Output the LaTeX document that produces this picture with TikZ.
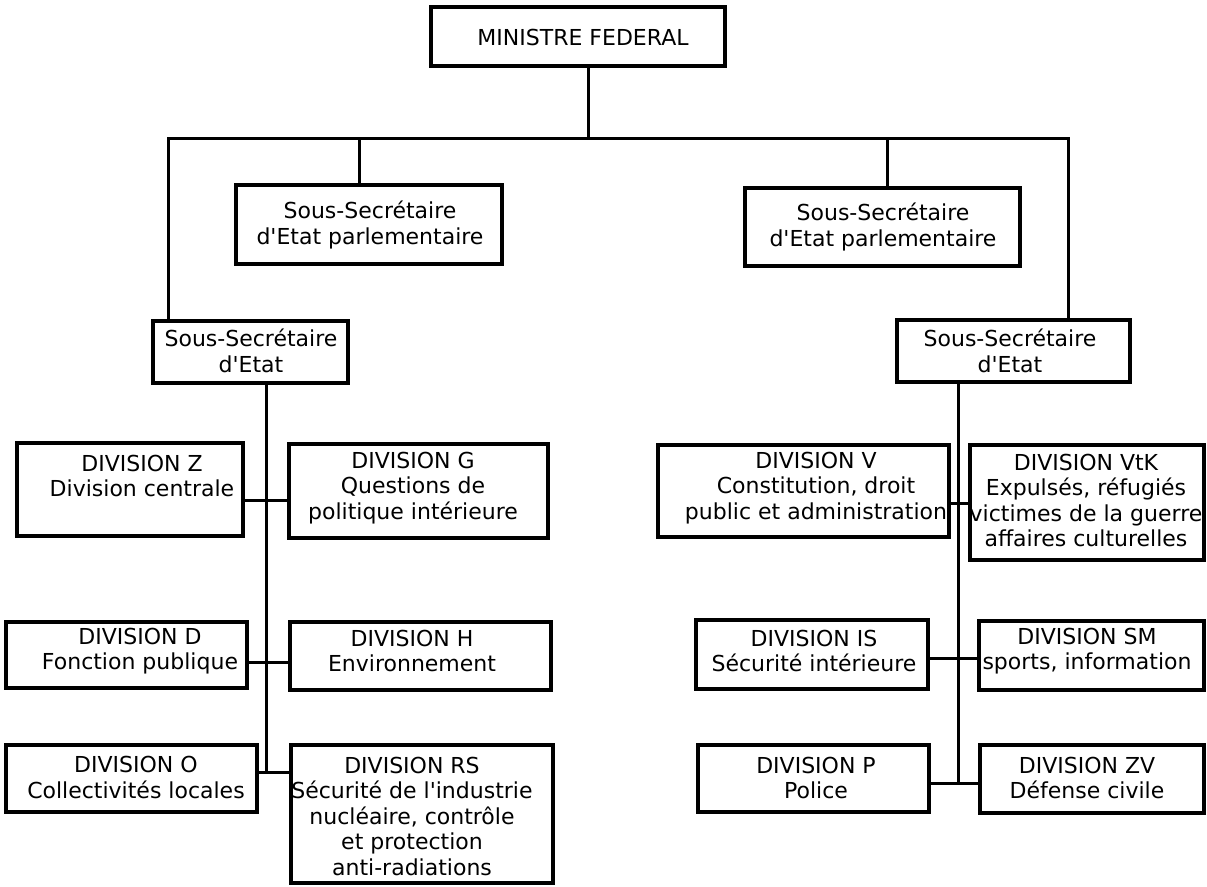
\documentclass[tikz,border=0pt]{standalone}
\usepackage{fontspec}
\setmainfont{DejaVu Sans}[Ligatures=TeXOff]
\begin{document}
\begin{tikzpicture}[x=1pt,y=-1pt,
  box/.style={draw, line width=3.4pt, inner sep=0pt, outer sep=0pt},
  txt/.style={align=center, inner sep=0pt, font=\fontsize{22}{25.5}\selectfont},
  link/.style={line width=3pt, line join=miter}]
\useasboundingbox (0,0) rectangle (1207,886);
% boxes
\node[box, minimum width=294pt, minimum height=59pt] (mf) at (578,36.5) {};
\node[txt] (mft) at (583,37) {MINISTRE FEDERAL};
\node[box, minimum width=266pt, minimum height=79pt] (ssepl) at (369,224.5) {};
\node[txt] (sseplt) at (370,225) {Sous-Secrétaire\\d'Etat parlementaire};
\node[box, minimum width=275pt, minimum height=78pt] (ssepr) at (882.5,227) {};
\node[txt] (sseprt) at (883,227) {Sous-Secrétaire\\d'Etat parlementaire};
\node[box, minimum width=195pt, minimum height=62pt] (ssel) at (250.5,352) {};
\node[txt] (sselt) at (251,351) {Sous-Secrétaire\\d'Etat};
\node[box, minimum width=233pt, minimum height=62pt] (sser) at (1013.5,351) {};
\node[txt] (ssert) at (1010,351) {Sous-Secrétaire\\d'Etat};
% left divisions
\node[box, minimum width=226pt, minimum height=93pt] (z) at (130,489.5) {};
\node[txt] (zt) at (142,476) {DIVISION Z\\Division centrale};
\node[box, minimum width=259pt, minimum height=94pt] (g) at (418.5,491) {};
\node[txt] (gt) at (413,488) {DIVISION G\\Questions de\\politique intérieure};
\node[box, minimum width=241pt, minimum height=66pt] (d) at (126.5,655) {};
\node[txt] (dt) at (140,651) {DIVISION D\\Fonction publique};
\node[box, minimum width=261pt, minimum height=68pt] (h) at (420.5,656) {};
\node[txt] (ht) at (412,651) {DIVISION H\\Environnement};
\node[box, minimum width=251pt, minimum height=67pt] (o) at (131.5,778.5) {};
\node[txt] (ot) at (136,777.5) {DIVISION O\\Collectivités locales};
\node[box, minimum width=262pt, minimum height=138pt] (rs) at (422,814) {};
\node[txt] (rst) at (412,816) {DIVISION RS\\Sécurité de l'industrie\\nucléaire, contrôle\\et protection\\anti-radiations};
% right divisions
\node[box, minimum width=291pt, minimum height=92pt] (v) at (803.5,491) {};
\node[txt] (vt) at (816,488) {DIVISION V\\Constitution, droit\\public et administration};
\node[box, minimum width=234pt, minimum height=115pt] (vtk) at (1087,502.5) {};
\node[txt] (vtkt) at (1086,500.5) {DIVISION VtK\\Expulsés, réfugiés\\victimes de la guerre\\affaires culturelles};
\node[box, minimum width=232pt, minimum height=69pt] (is) at (812,654.5) {};
\node[txt] (ist) at (814,651) {DIVISION IS\\Sécurité intérieure};
\node[box, minimum width=225pt, minimum height=69pt] (sm) at (1091.5,655.5) {};
\node[txt] (smt) at (1087,651) {DIVISION SM\\sports, information};
\node[box, minimum width=231pt, minimum height=67pt] (p) at (813.5,778.5) {};
\node[txt] (pt) at (816,778) {DIVISION P\\Police};
\node[box, minimum width=224pt, minimum height=68pt] (zv) at (1092,779) {};
\node[txt] (zvt) at (1087,778) {DIVISION ZV\\Défense civile};
% junction coordinates
\coordinate (j0) at (588,138);
\coordinate (bl) at (168,138);
\coordinate (br) at (1068,138);
\coordinate (j1) at (359,138);
\coordinate (j2) at (887,138);
\coordinate (tl) at (266,772);
\coordinate (tr) at (958,783);
\coordinate (yzg) at (266,500);
\coordinate (ydh) at (266,662);
\coordinate (yvk) at (958,503);
\coordinate (yis) at (958,658);
% connectors
\draw[link] (mf.south -| j0) -- (j0);
\draw[link] (ssel.north -| bl) -- (bl) -- (br) -- (sser.north -| br);
\draw[link] (j1) -- (ssepl.north -| j1);
\draw[link] (j2) -- (ssepr.north -| j2);
\draw[link] (ssel.south -| tl) -- (tl);
\draw[link] (z.east |- yzg) -- (g.west |- yzg);
\draw[link] (d.east |- ydh) -- (h.west |- ydh);
\draw[link] (o.east |- tl) -- (rs.west |- tl);
\draw[link] (sser.south -| tr) -- (tr);
\draw[link] (v.east |- yvk) -- (vtk.west |- yvk);
\draw[link] (is.east |- yis) -- (sm.west |- yis);
\draw[link] (p.east |- tr) -- (zv.west |- tr);
\end{tikzpicture}
\end{document}
